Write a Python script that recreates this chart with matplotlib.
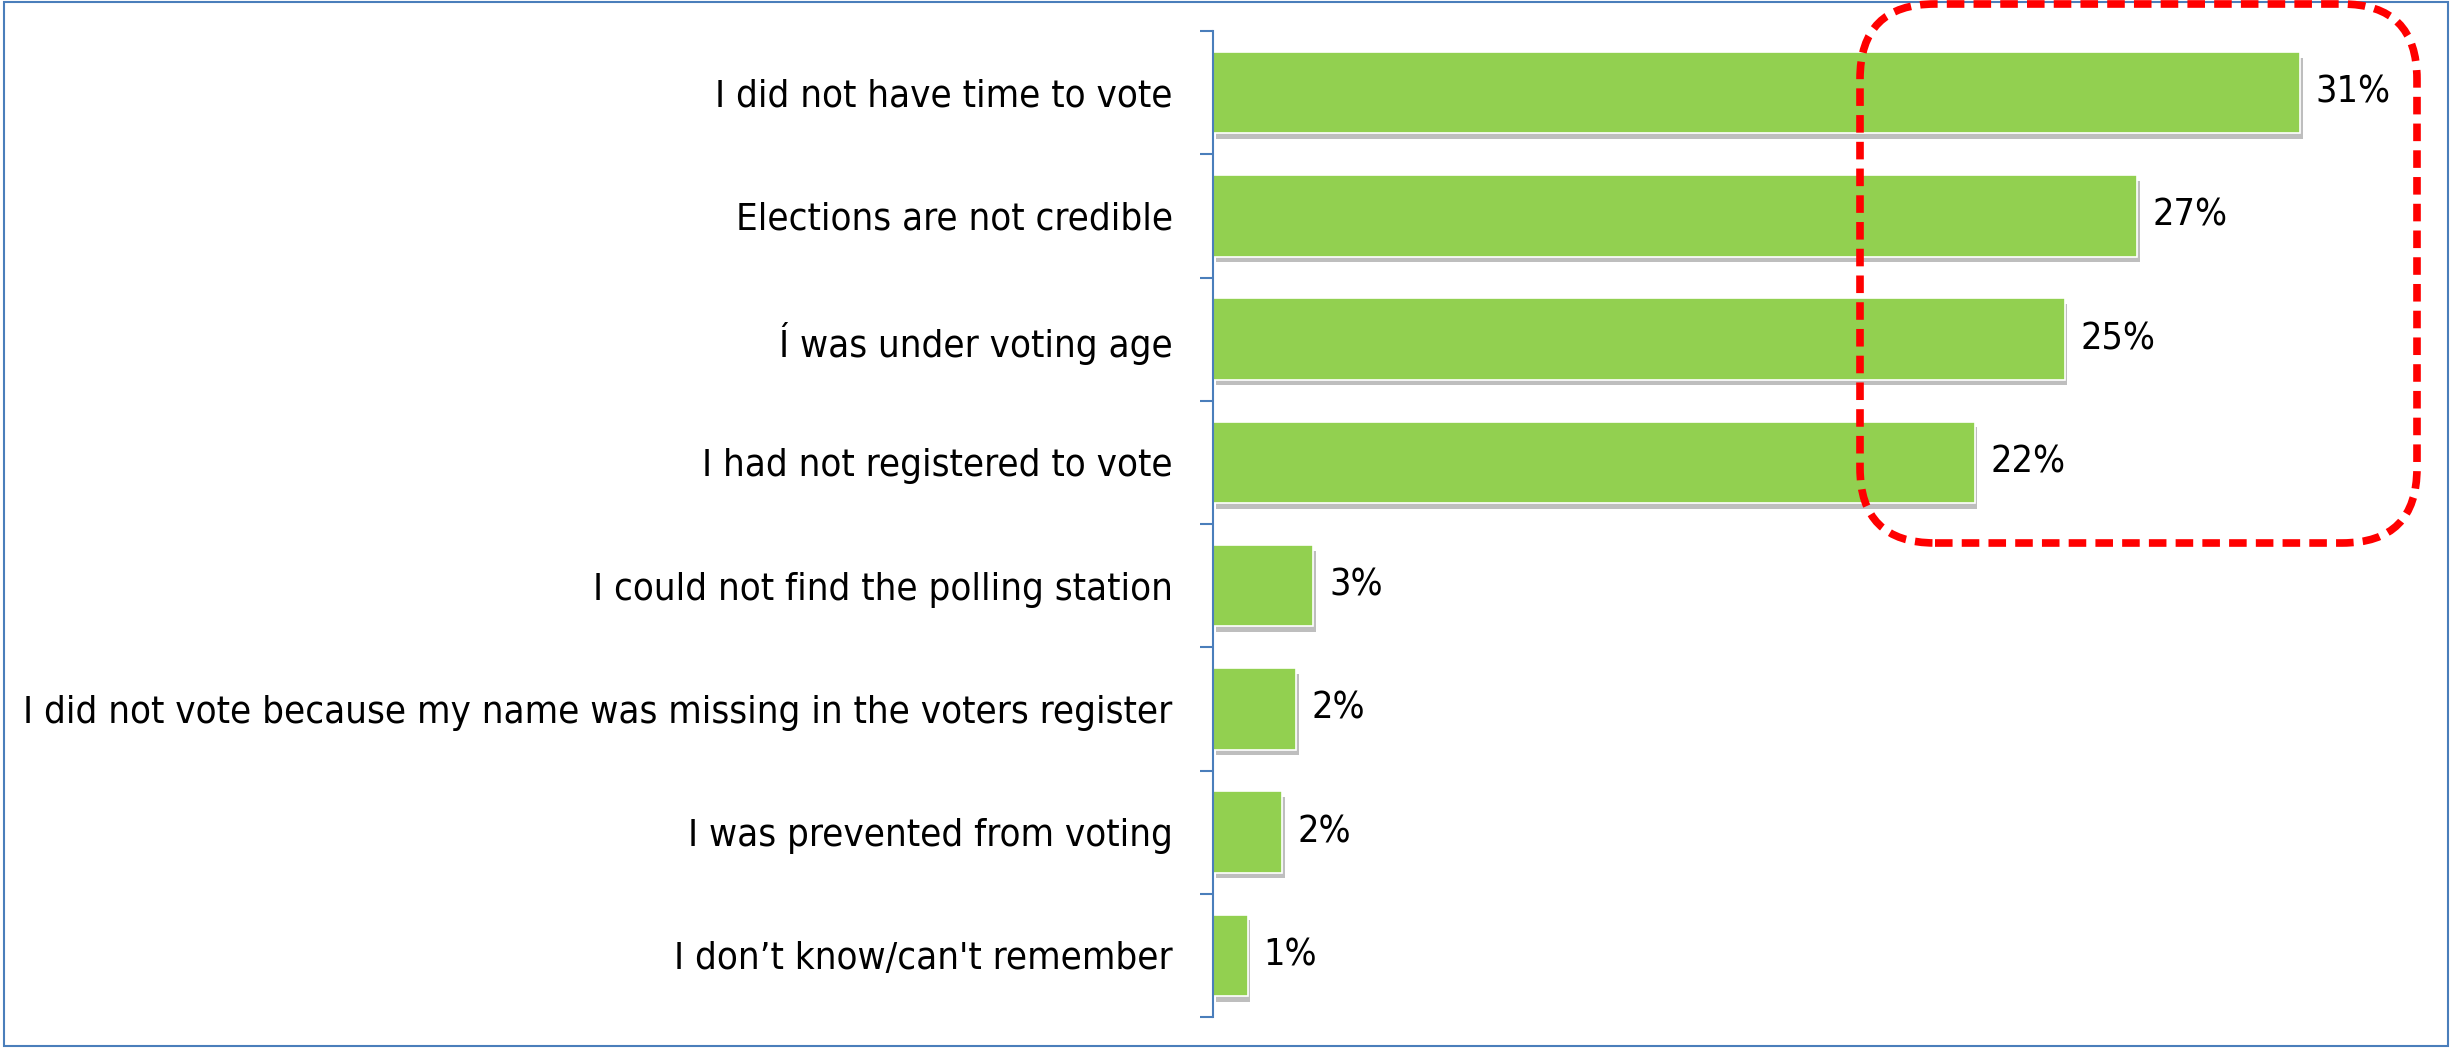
import matplotlib.pyplot as plt
import matplotlib.patheffects as pe
from matplotlib.patches import FancyBboxPatch, Rectangle
import numpy as np

plt.rcParams['font.family'] = ['DejaVu Sans']
plt.rcParams['font.stretch'] = 'condensed'

# Data
reasons = [
    'I did not have time to vote',
    'Elections are not credible',
    '\u00cd was under voting age',
    'I had not registered to vote',
    'I could not find the polling station',
    'I did not vote because my name was missing in the voters register',
    'I was prevented from voting',
    'I don\u2019t know/can\'t remember',
]
shares = [31.4, 26.7, 24.6, 22.0, 2.9, 2.4, 2.0, 1.0]

W, H, DPI = 2452, 1048, 100
fig = plt.figure(figsize=(W / DPI, H / DPI), dpi=DPI)
ax = fig.add_axes([1213 / W, 31 / H, 1200 / W, 986 / H])

y = np.arange(len(reasons))
bars = ax.barh(y, shares, height=0.66, color='#92D050', edgecolor='white', linewidth=1.2)
for b in bars:
    b.set_path_effects([pe.SimplePatchShadow(offset=(2, -4), shadow_rgbFace='#7f7f7f', alpha=0.5),
                        pe.Normal()])

for yi, v in zip(y, shares):
    ax.text(v + 0.45, yi, f'{v:.0f}%', va='center', ha='left', fontsize=27,
            fontstretch='condensed', color='black')

ax.set_xlim(0, 34.66)
ax.set_ylim(len(reasons) - 0.5, -0.5)
ax.set_yticks(y)
ax.set_yticklabels(reasons, fontsize=27.5, fontstretch='condensed')
ax.set_yticks(np.arange(len(reasons) + 1) - 0.5, minor=True)
ax.tick_params(axis='y', which='major', length=0, pad=29)
ax.tick_params(axis='y', which='minor', length=9.4, width=1.5, color='#4A7EBB')
ax.set_xticks([])
for s in ['top', 'right', 'bottom']:
    ax.spines[s].set_visible(False)
ax.spines['left'].set_color('#4A7EBB')
ax.spines['left'].set_linewidth(1.5)

# outer frame
fig.patches.append(Rectangle((0.0015, 0.002), 0.997, 0.996, transform=fig.transFigure,
                             fill=False, edgecolor='#4A7EBB', linewidth=1.5))

# red dashed highlight around the top four bars
box = FancyBboxPatch((18.6 + 0.75, 5.05 + 0.75), 5.57 - 1.5, 5.39 - 1.5,
                     boxstyle='round,pad=0.75', transform=fig.dpi_scale_trans,
                     fill=False, edgecolor='#FF0000', linewidth=5.5,
                     linestyle=(0, (2.3, 1.2)))
fig.patches.append(box)

fig.savefig('out.png', dpi=DPI)
